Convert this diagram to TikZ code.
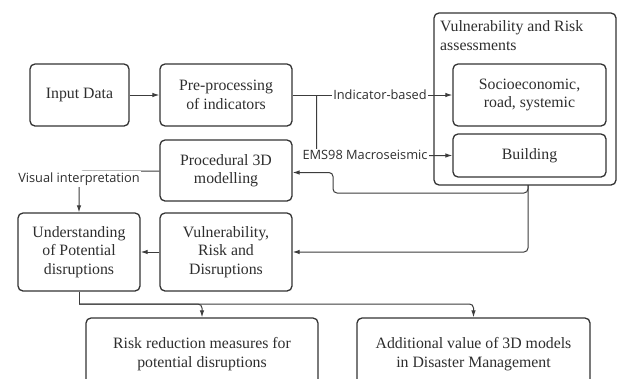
\documentclass[tikz,border=0pt]{standalone}
\usepackage{fontspec}
\setmainfont{Liberation Serif}
\newfontfamily\lblfont{Open Sans}
\usetikzlibrary{arrows.meta}
\definecolor{edge}{HTML}{333333}
\definecolor{wire}{HTML}{3C3C3C}
\definecolor{ink}{HTML}{2E2E2E}
\begin{document}
\begin{tikzpicture}[x=1pt,y=-1pt,
  box/.style={draw=edge, line width=1.3pt, rounded corners=5pt, align=center,
    text=ink, font=\fontsize{15.8}{18.5}\selectfont, inner sep=0pt},
  wire/.style={draw=wire, line width=1pt, rounded corners=4pt},
  arr/.style={wire, -{Latex[length=7pt,width=4.5pt]}},
  lbl/.style={fill=white, text=ink, font=\lblfont\fontsize{12.8}{15}\selectfont, inner sep=1.5pt}]
\useasboundingbox (0,0) rectangle (617,378);
\fill[white] (0,0) rectangle (617,378);

% main chain of boxes
\node[box, minimum width=99pt, minimum height=62pt] (inp) at (79.5,95) {Input Data};
\node[box, minimum width=132pt, minimum height=62pt] (pre) at (226,95) {Pre-processing\\of indicators};
\node[box, minimum width=132pt, minimum height=61pt] (proc) at (226,170.5) {Procedural 3D\\modelling};
\node[box, minimum width=132pt, minimum height=78pt] (vrd) at (226,252) {Vulnerability,\\Risk and\\Disruptions};
\node[box, minimum width=122pt, minimum height=78pt] (und) at (79,252) {Understanding\\of Potential\\disruptions};

% assessment group
\node[box, minimum width=182pt, minimum height=172pt] (grp) at (525,99) {};
\node[anchor=north west, align=left, text=ink, inner sep=0pt,
  font=\fontsize{15.8}{19}\selectfont] (grpt) at (440,20) {Vulnerability and Risk\\assessments};
\node[box, minimum width=153pt, minimum height=62pt] (soc) at (529.5,95) {Socioeconomic,\\road, systemic};
\node[box, minimum width=153pt, minimum height=43pt] (bld) at (529.5,155.5) {Building};

% outcomes
\node[box, minimum width=232pt, minimum height=72pt] (rrm) at (202,354) {Risk reduction measures for\\potential disruptions};
\node[box, minimum width=233pt, minimum height=72pt] (add) at (473.5,354) {Additional value of 3D models\\in Disaster Management};

% junction points
\coordinate (split) at (316.5,95);
\coordinate (gout) at (528,185);
\coordinate (merge) at (79,304);

% connectors
\draw[arr] (inp.east) -- (pre.west);
\draw[arr] (pre.east) -- (soc.west);
\draw[arr] (split) |- (bld.west);
\node[lbl] (ib) at (380,95) {Indicator-based};
\node[lbl] (ems) at (365,155) {EMS98 Macroseismic};

\draw[arr] (gout) -- (528,193) -- (333,193) -- (333,172.5) -- (proc.east |- 0,172.5);
\draw[arr] (gout) |- (vrd.east);
\draw[arr] (vrd.west) -- (und.east);

\draw[arr] (proc.west |- 0,171) -| (und.north);
\node[lbl] (vi) at (79,179) {Visual interpretation};

\draw[wire] (und.south) -- (merge);
\draw[arr] (merge) -| (rrm.north);
\draw[arr] (merge) -| (add.north);
\end{tikzpicture}
\end{document}
